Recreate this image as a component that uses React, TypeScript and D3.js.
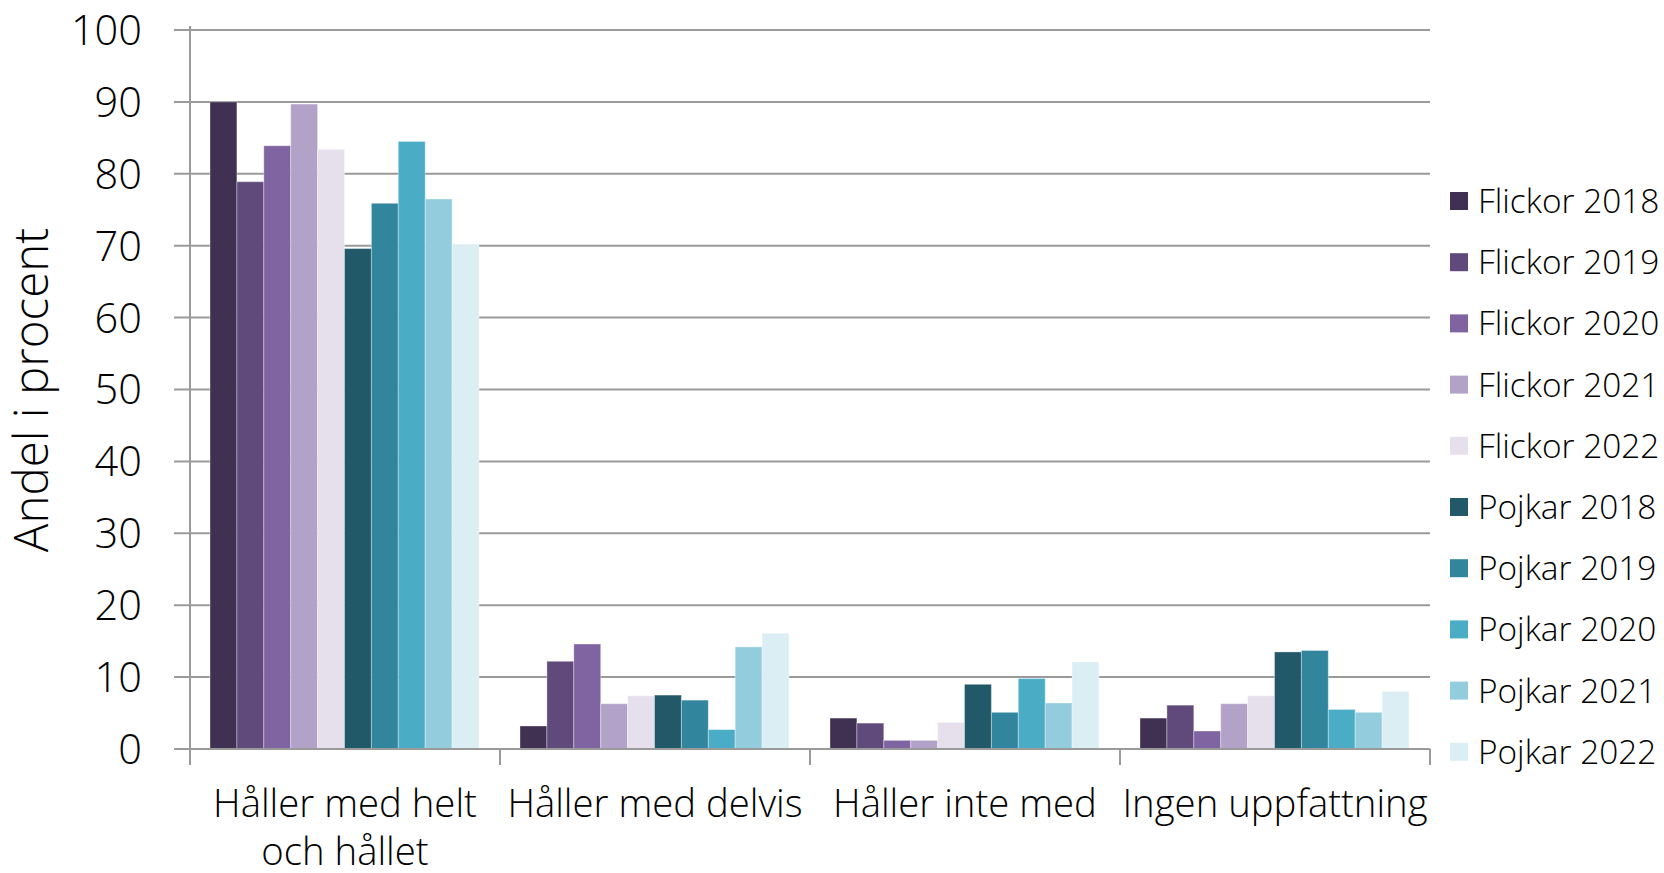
import React from "react";
import * as d3 from "d3";

const categories = ["Håller med helt\noch hållet", "Håller med delvis", "Håller inte med", "Ingen uppfattning"];
const seriesNames = [
  "Flickor 2018", "Flickor 2019", "Flickor 2020", "Flickor 2021", "Flickor 2022",
  "Pojkar 2018", "Pojkar 2019", "Pojkar 2020", "Pojkar 2021", "Pojkar 2022",
];
const seriesColors = [
  "#403152", "#604a7b", "#8064a2", "#b3a2c7", "#e6e0ec",
  "#215968", "#31859c", "#4bacc6", "#93cddd", "#daeef3",
];
// values[series][category]
const flickor2018 = [90.0, 3.2, 4.3, 4.3];
const flickor2019 = [78.9, 12.2, 3.6, 6.1];
const flickor2020 = [83.9, 14.6, 1.2, 2.5];
const flickor2021 = [89.7, 6.3, 1.2, 6.3];
const flickor2022 = [83.4, 7.4, 3.7, 7.4];
const pojkar2018 = [69.6, 7.5, 9.0, 13.5];
const pojkar2019 = [75.9, 6.8, 5.1, 13.7];
const pojkar2020 = [84.5, 2.7, 9.8, 5.5];
const pojkar2021 = [76.5, 14.2, 6.4, 5.1];
const pojkar2022 = [70.2, 16.1, 12.1, 8.0];
const seriesValues = [
  flickor2018, flickor2019, flickor2020, flickor2021, flickor2022,
  pojkar2018, pojkar2019, pojkar2020, pojkar2021, pojkar2022,
];
const yTicks = [0, 10, 20, 30, 40, 50, 60, 70, 80, 90, 100];
const yTitle = "Andel i procent";

const W = 1664;
const H = 873;
const left = 190;
const right = 1430;
const top = 30;
const bottom = 749;
const font = "'Open Sans', 'Noto Sans', sans-serif";

export default function App() {
  const x = d3.scaleBand<number>().domain(d3.range(categories.length)).range([left, right]).paddingInner(0).paddingOuter(0);
  const inner = d3.scaleBand<number>().domain(d3.range(seriesNames.length)).range([20, x.bandwidth() - 21]).padding(0);
  const y = d3.scaleLinear().domain([0, 100]).range([bottom, top]);
  const boundaries = d3.range(categories.length + 1).map((i) => left + i * x.step());

  return (
    <svg width={W} height={H} style={{ position: "absolute", left: 0, top: 0, background: "#fff" }}>
      {/* gridlines */}
      {yTicks.filter((t) => t > 0).map((t) => (
        <line key={"g" + t} x1={left - 16} x2={right} y1={y(t)} y2={y(t)} stroke="#9a9a9a" strokeWidth={2} />
      ))}
      {/* bars */}
      {seriesValues.map((vals, si) =>
        vals.map((v, ci) => (
          <rect
            key={`b${si}-${ci}`}
            x={(x(ci) as number) + (inner(si) as number)}
            y={y(v)}
            width={inner.bandwidth()}
            height={y(0) - y(v)}
            fill={seriesColors[si]}
            stroke="#ffffff"
            strokeOpacity={0.35}
            strokeWidth={1}
          />
        ))
      )}
      {/* y axis */}
      <line x1={left} x2={left} y1={top - 4} y2={bottom + 16} stroke="#9a9a9a" strokeWidth={2} />
      <line x1={left - 16} x2={left} y1={y(0)} y2={y(0)} stroke="#9a9a9a" strokeWidth={2} />
      {/* x axis */}
      <line x1={left} x2={right} y1={bottom} y2={bottom} stroke="#9a9a9a" strokeWidth={2} />
      {boundaries.map((bx, i) => (
        <line key={"xt" + i} x1={bx} x2={bx} y1={bottom} y2={bottom + 16} stroke="#9a9a9a" strokeWidth={2} />
      ))}
      {/* y tick labels */}
      {yTicks.map((t) => (
        <text key={"yl" + t} x={142} y={y(t)} dy="0.36em" textAnchor="end" fontFamily={font} fontWeight={300} fontSize={41.5} fill="#000">
          {t}
        </text>
      ))}
      {/* y title */}
      <text
        transform={`translate(48, ${390}) rotate(-90)`}
        textAnchor="middle"
        fontFamily={font}
        fontWeight={300}
        fontSize={47.5}
        fill="#000"
      >
        {yTitle}
      </text>
      {/* x labels */}
      {categories.map((c, ci) => (
        <text key={"xl" + ci} textAnchor="middle" fontFamily={font} fontWeight={300} fontSize={38.3} fill="#000">
          {c.split("\n").map((line, li) => (
            <tspan key={li} x={(x(ci) as number) + x.bandwidth() / 2} y={817 + li * 48}>
              {line}
            </tspan>
          ))}
        </text>
      ))}
      {/* legend */}
      {seriesNames.map((n, i) => {
        const ly = 201 + i * 61.2;
        return (
          <g key={"lg" + i}>
            <rect x={1450} y={ly - 9} width={18} height={18} fill={seriesColors[i]} />
            <text x={1478} y={ly} dy="0.36em" fontFamily={font} fontWeight={300} fontSize={33.4} fill="#000">
              {n}
            </text>
          </g>
        );
      })}
    </svg>
  );
}
